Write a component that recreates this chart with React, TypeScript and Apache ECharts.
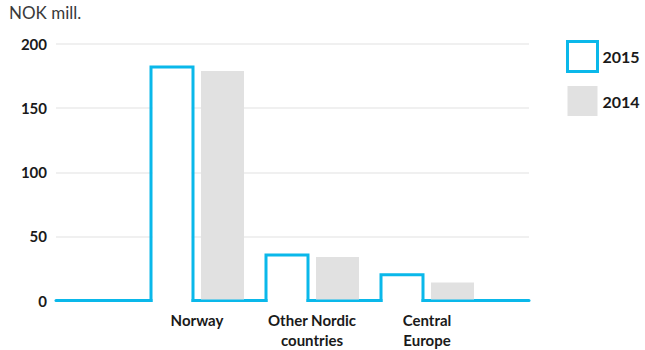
import React, { useEffect, useRef } from "react";
import * as echarts from "echarts";

const categories = ["Norway", "Other Nordic\ncountries", "Central\nEurope"];
const values2015 = [182, 35.5, 20];
const values2014 = [179, 34, 14];
const yTicks = [0, 50, 100, 150, 200];
const unitLabel = "NOK mill.";

const CYAN = "#0ab8ea";
const GRAY = "#e1e1e1";
const TEXT = "#1a1a1a";
const FONT = "Lato, 'Noto Sans', sans-serif";

export default function App() {
  const ref = useRef<HTMLDivElement>(null);
  useEffect(() => {
    if (!ref.current) return;
    const chart = echarts.init(ref.current, null, { renderer: "svg" });
    const top = 44;
    const bottom = 49.5;
    chart.setOption({
      animation: false,
      backgroundColor: "#fff",
      textStyle: { fontFamily: FONT },
      graphic: [
        {
          type: "text",
          left: 9,
          top: 4,
          style: { text: unitLabel, fontSize: 17, fontFamily: FONT, fill: "#3a3a3a" },
        },
      ],
      legend: {
        orient: "vertical",
        left: 566,
        top: 40,
        padding: 0,
        itemWidth: 30,
        itemHeight: 30,
        itemGap: 13,
        textStyle: { fontSize: 16, fontWeight: "bold", color: TEXT, fontFamily: FONT },
        data: [
          { name: "2015", icon: "rect", itemStyle: { color: "#fff", borderColor: CYAN, borderWidth: 3 } },
          { name: "2014", icon: "rect", itemStyle: { color: GRAY, borderWidth: 0 } },
        ],
      },
      grid: [
        { left: 56, right: 116, top, bottom },
        { left: 139.5, right: 160.5, top, bottom },
      ],
      xAxis: [
        {
          gridIndex: 0,
          type: "value",
          min: 0,
          max: 1,
          z: 1,
          axisLabel: { show: false },
          axisTick: { show: false },
          splitLine: { show: false },
          axisLine: { show: true, onZero: true, lineStyle: { color: CYAN, width: 3 } },
        },
        {
          gridIndex: 1,
          type: "category",
          data: categories,
          axisLine: { show: false },
          axisTick: { show: false },
          axisLabel: {
            margin: 9,
            fontSize: 15,
            fontWeight: "bold",
            lineHeight: 20,
            color: TEXT,
            fontFamily: FONT,
          },
        },
      ],
      yAxis: [
        {
          gridIndex: 0,
          type: "value",
          min: yTicks[0],
          max: yTicks[yTicks.length - 1],
          interval: 50,
          axisLine: { show: false },
          axisTick: { show: false },
          axisLabel: { margin: 9, fontSize: 15, fontWeight: "bold", color: TEXT, fontFamily: FONT },
          splitLine: { lineStyle: { color: "#ebebeb", width: 1.5 } },
        },
        {
          gridIndex: 1,
          type: "value",
          min: yTicks[0],
          max: yTicks[yTicks.length - 1],
          show: false,
          splitLine: { show: false },
        },
      ],
      series: [
        {
          name: "2015",
          type: "custom",
          xAxisIndex: 1,
          yAxisIndex: 1,
          itemStyle: { color: CYAN },
          data: values2015.map((v, i) => [i, v]),
          renderItem: (params: any, api: any) => {
            const idx = api.value(0);
            const v = api.value(1);
            const t = api.coord([idx, v]);
            const b = api.coord([idx, 0]);
            const c = t[0];
            const l = c - 46;
            const r = c - 4;
            return {
              type: "group",
              children: [
                {
                  type: "rect",
                  shape: { x: l + 1.5, y: t[1], width: r - l - 3, height: b[1] - t[1] + 2 },
                  style: { fill: "#fff" },
                },
                {
                  type: "polyline",
                  shape: {
                    points: [
                      [l, b[1] + 1.5],
                      [l, t[1]],
                      [r, t[1]],
                      [r, b[1] + 1.5],
                    ],
                  },
                  style: { stroke: CYAN, lineWidth: 3, fill: null, lineJoin: "miter" },
                },
              ],
            };
          },
        },
        {
          name: "2014",
          type: "custom",
          xAxisIndex: 1,
          yAxisIndex: 1,
          itemStyle: { color: GRAY },
          data: values2014.map((v, i) => [i, v]),
          renderItem: (params: any, api: any) => {
            const idx = api.value(0);
            const v = api.value(1);
            const t = api.coord([idx, v]);
            const b = api.coord([idx, 0]);
            const c = t[0];
            return {
              type: "rect",
              shape: { x: c + 4, y: t[1], width: 43, height: b[1] - t[1] - 1 },
              style: { fill: GRAY },
            };
          },
        },
      ],
    });
    return () => chart.dispose();
  }, []);
  return (
    <div
      ref={ref}
      style={{ position: "fixed", left: 0, top: 0, width: 645, height: 350 }}
    />
  );
}
